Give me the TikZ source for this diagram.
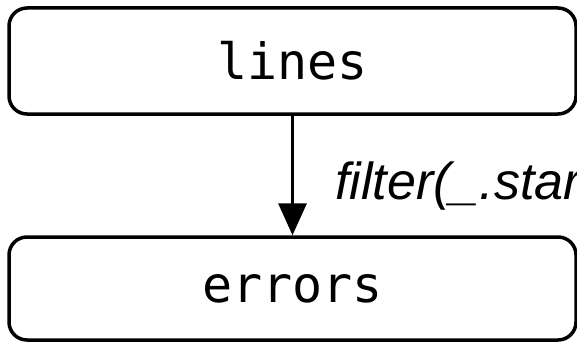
\documentclass[tikz,border=0pt]{standalone}
\usepackage{fontspec}
\setmonofont{DejaVu Sans Mono}
\setsansfont{Liberation Sans}
\usetikzlibrary{arrows.meta}

\begin{document}
\begin{tikzpicture}[x=1pt, y=1pt,
    rdd/.style={rectangle, rounded corners=18pt, draw=black, line width=3.5pt,
        fill=white, minimum width=567pt, inner sep=0pt,
        font=\ttfamily\fontsize{50}{60}\selectfont},
    flow/.style={line width=3.5pt, -{Triangle[length=32pt, width=28pt]}},
    oplabel/.style={inner sep=0pt, font=\sffamily\itshape\fontsize{52}{62}\selectfont}
]
    \useasboundingbox (0,0) rectangle (577,346);
    \node[rdd, minimum height=106pt] (lines) at (292.5,285) {lines};
    \node[rdd, minimum height=103pt] (errors) at (292.5,57.5) {errors};
    \draw[flow] (lines) -- (errors);
    \node[oplabel, anchor=base west] (op) at (335,147) {filter(\_.star};
\end{tikzpicture}
\end{document}
